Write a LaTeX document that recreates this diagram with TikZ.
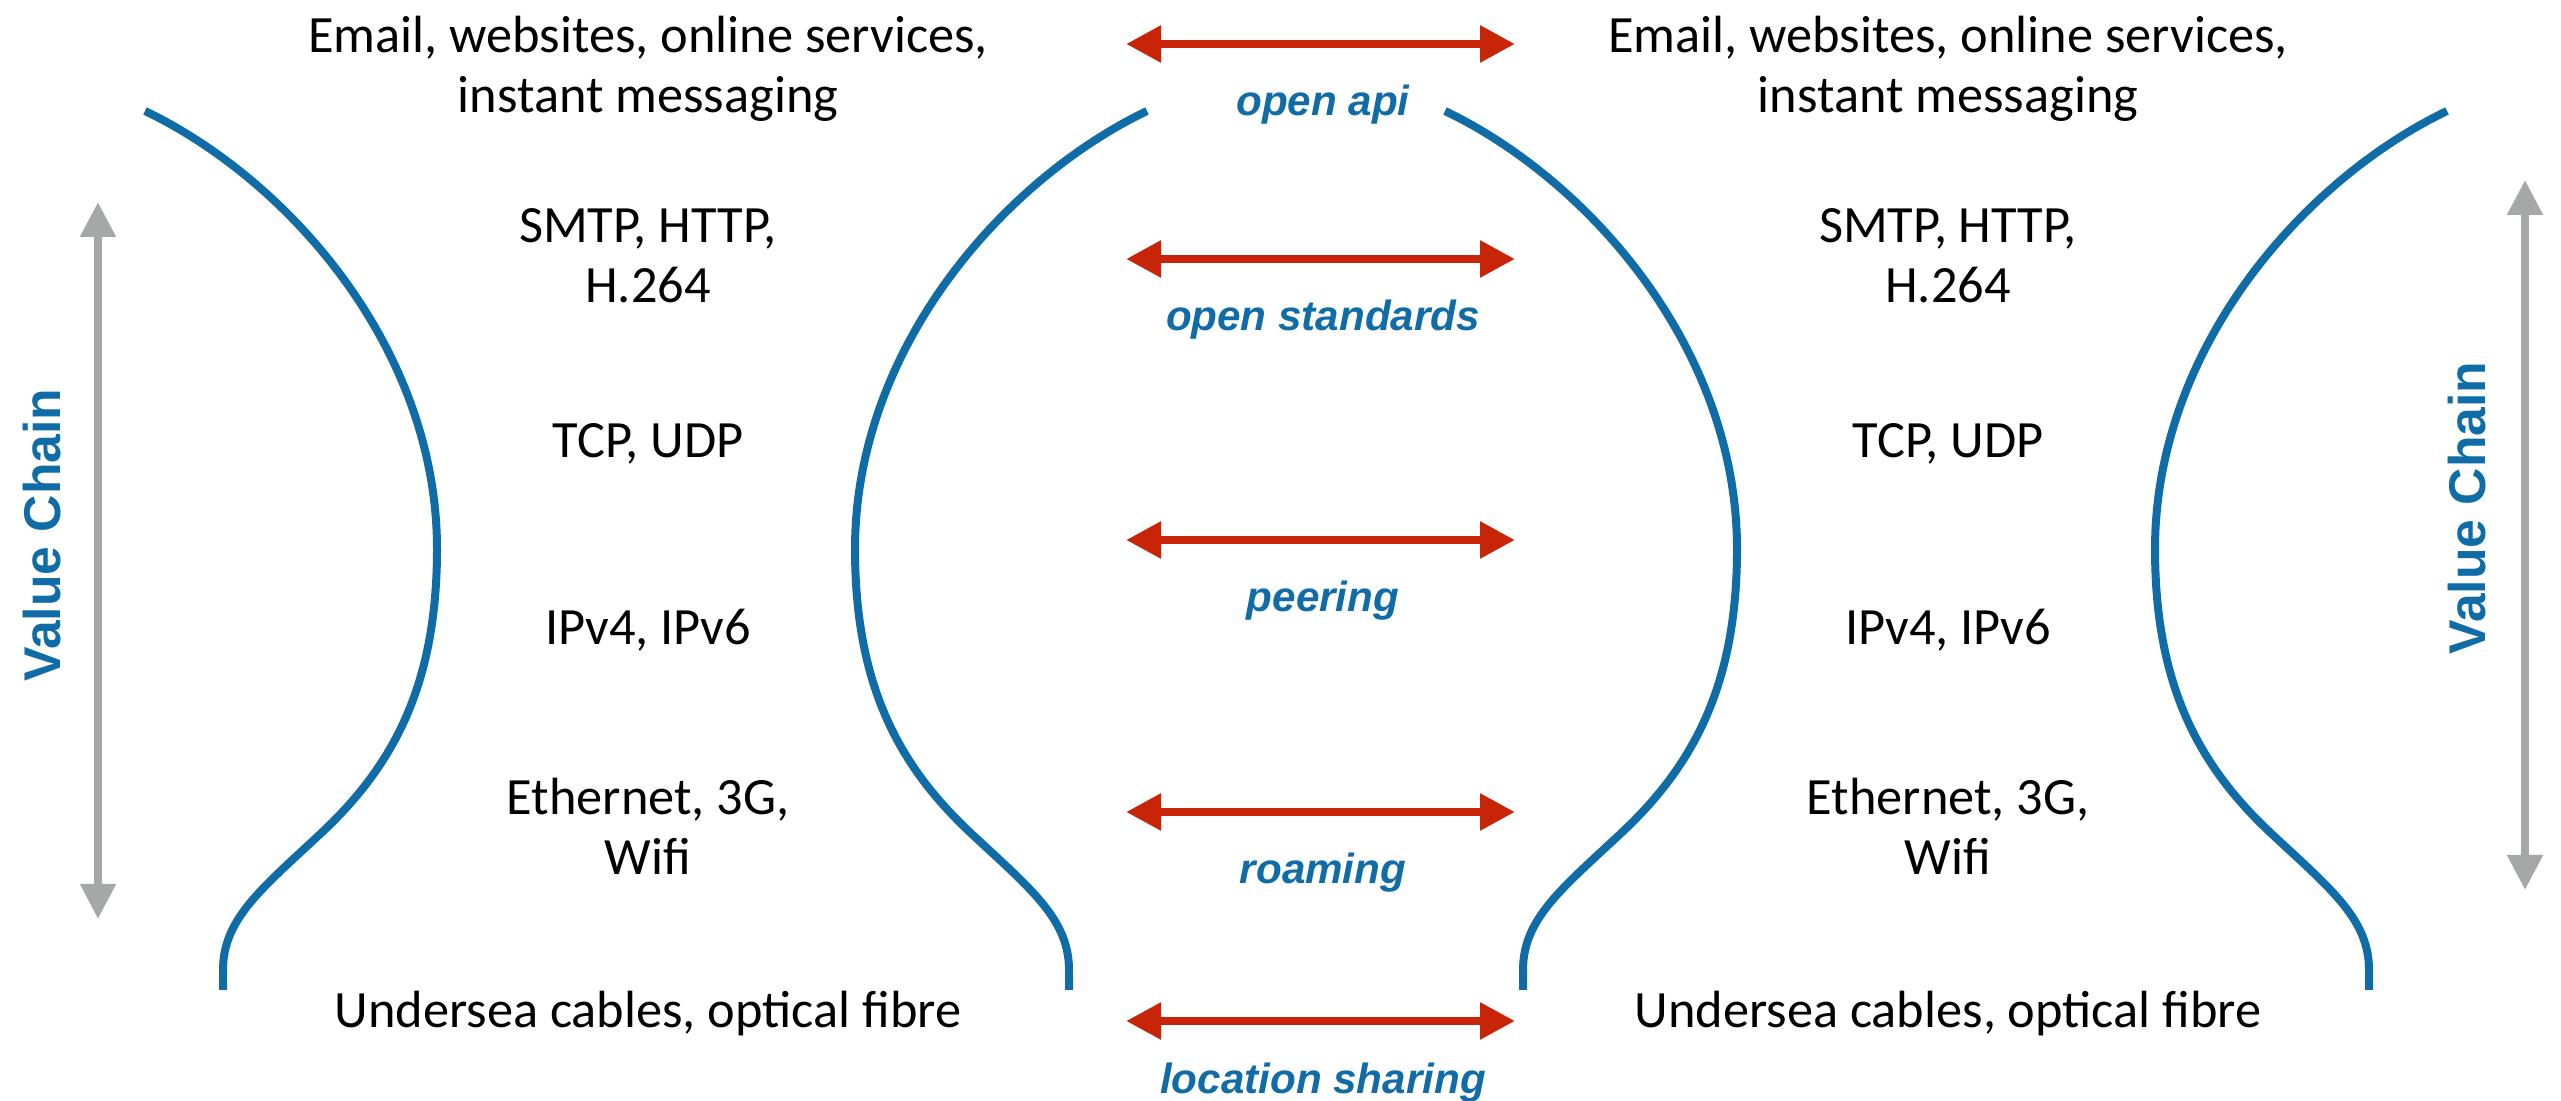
\documentclass[tikz,border=0pt]{standalone}
\usepackage{fontspec}
\setmainfont{Carlito}
\newfontfamily\labelfont{Liberation Sans}
\usetikzlibrary{arrows.meta}

\definecolor{chainblue}{RGB}{16,108,166}
\definecolor{linkred}{RGB}{199,36,8}
\definecolor{axisgrey}{RGB}{166,168,167}

\tikzset{
  chainbend/.pic={
    \draw[line width=0.08cm, draw=chainblue]
      (-5.01,9.89) .. controls (-3.57,9.20) and (-2.09,7.51) .. (-2.09,5.51)
      .. controls (-2.09,4.10) and (-2.56,3.30) .. (-3.29,2.63)
      .. controls (-3.86,2.10) and (-4.23,1.80) .. (-4.23,1.30) -- (-4.23,1.10);
  }
}

\begin{document}
\begin{tikzpicture}[
  layer/.style={align=center, font=\fontsize{14.9}{17}\selectfont},
  link/.style={{Triangle[length=0.35cm,width=0.35cm]}-{Triangle[length=0.35cm,width=0.35cm]},
    line width=0.085cm, draw=linkred},
  tag/.style={font=\labelfont\bfseries\itshape\fontsize{12}{14}\selectfont, text=chainblue, anchor=base},
  axis/.style={{Triangle[length=0.35cm,width=0.34cm]}-{Triangle[length=0.35cm,width=0.34cm]},
    line width=0.08cm, draw=axisgrey},
  vlabel/.style={font=\labelfont\bfseries\fontsize{14.7}{17}\selectfont, text=chainblue, rotate=90}
]
  \useasboundingbox (0,0) rectangle (25.61,11);

  % the two stacks of layers
  \foreach \cx/\s in {6.48/L, 19.48/R} {
    \node[layer] (app\s)   at (\cx,10.31) {Email, websites, online services,\\instant messaging};
    \node[layer] (proto\s) at (\cx,8.44)  {SMTP, HTTP,\\H.264};
    \node[layer] (trans\s) at (\cx,6.56)  {TCP, UDP};
    \node[layer] (net\s)   at (\cx,4.70)  {IPv4, IPv6};
    \node[layer] (link\s)  at (\cx,2.74)  {Ethernet, 3G,\\Wifi};
    \node[layer] (phys\s)  at (\cx,0.86)  {Undersea cables, optical fibre};
  }

  % brackets round each stack
  \pic at (6.46,0) {chainbend};
  \pic[xscale=-1] at (6.46,0) {chainbend};
  \pic at (19.46,0) {chainbend};
  \pic[xscale=-1] at (19.46,0) {chainbend};

  % links between the stacks
  \foreach \y/\txt [count=\i] in {10.56/open api, 8.41/open standards, 5.60/peering,
                                  2.88/roaming, 0.79/location sharing} {
    \coordinate (a\i) at (11.26,\y);
    \coordinate (b\i) at (15.15,\y);
    \draw[link] (a\i) -- (b\i);
    \node[tag] (tag\i) at (13.23,\y-0.72) {\txt};
  }

  % value chain axes
  \node[vlabel] (vcL) at (0.42,5.65) {Value Chain};
  \coordinate (vtopL) at (0.98,8.98);
  \coordinate (vbotL) at (0.98,1.81);
  \draw[axis] (vtopL) -- (vbotL);

  \node[vlabel] (vcR) at (24.67,5.92) {Value Chain};
  \coordinate (vtopR) at (25.25,9.20);
  \coordinate (vbotR) at (25.25,2.10);
  \draw[axis] (vtopR) -- (vbotR);
\end{tikzpicture}
\end{document}
